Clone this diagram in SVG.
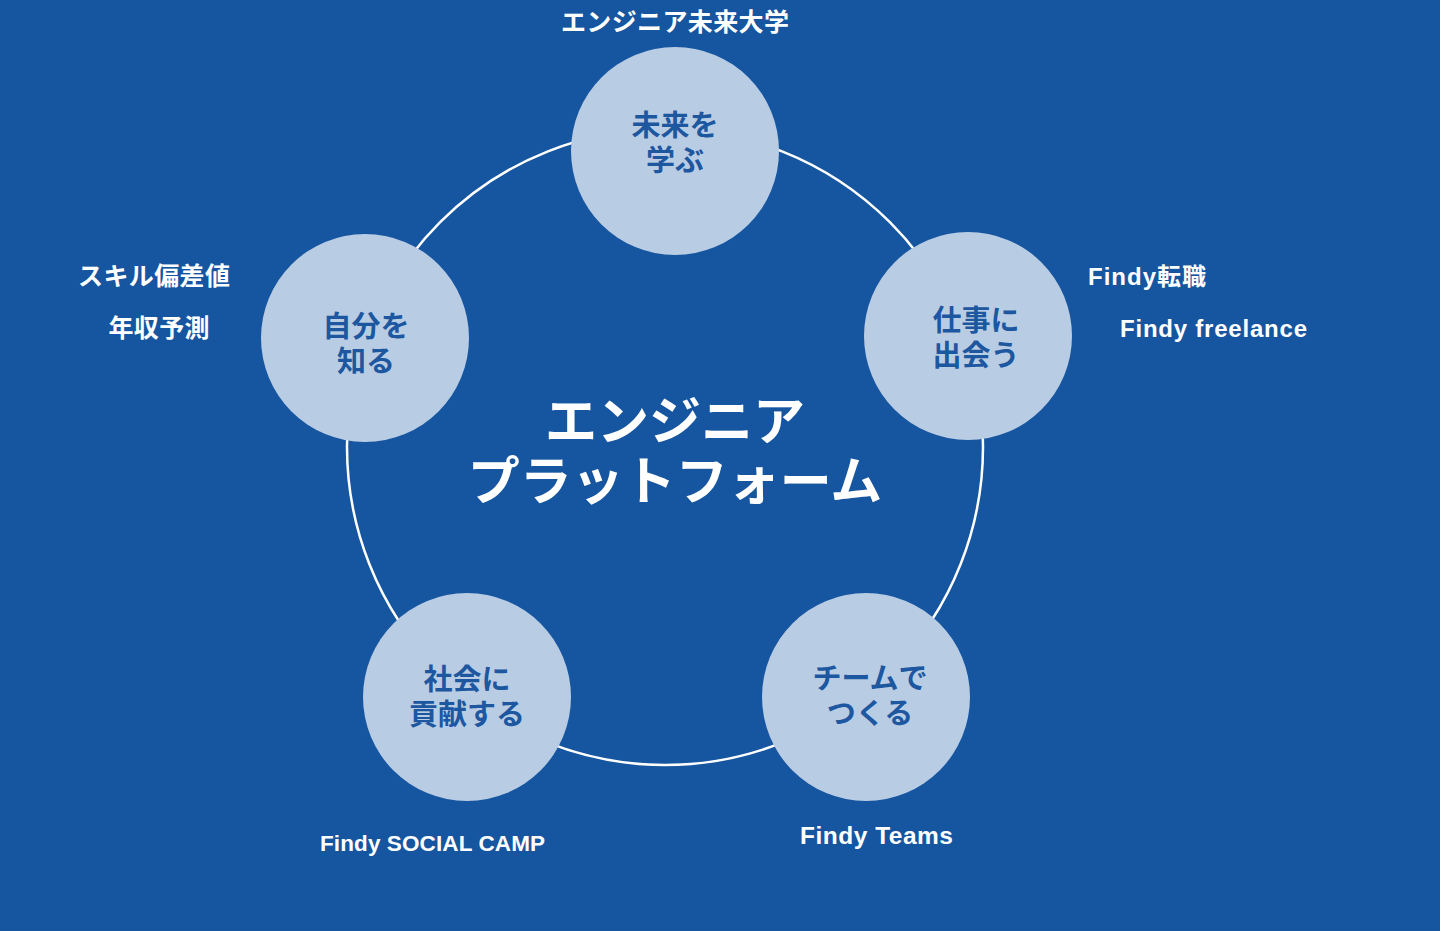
<svg xmlns="http://www.w3.org/2000/svg" width="1440" height="931" viewBox="0 0 1440 931">
<style>
.bg{fill:#16559f}
.ring{fill:none;stroke:#ffffff;stroke-width:2.5}
.node{fill:#b8cce4}
.nt{font-family:"Noto Sans CJK JP","Noto Sans",sans-serif;font-weight:700;font-size:29px;fill:#1c57a0;text-anchor:middle}
.lbl{font-family:"Liberation Sans","Noto Sans CJK JP",sans-serif;font-weight:700;font-size:24px;fill:#ffffff}
.jl{font-family:"Noto Sans CJK JP","Noto Sans",sans-serif;font-weight:700;font-size:25px;fill:#ffffff;text-anchor:middle}
.title{font-family:"Noto Sans CJK JP","Noto Sans",sans-serif;font-weight:700;font-size:52px;fill:#ffffff;text-anchor:middle}
</style>
<rect class="bg" x="0" y="0" width="1440" height="931"/>
<g id="connectors">
<circle class="ring" cx="665" cy="447" r="318"/>
</g>
<g id="center">
<text class="title" x="675" y="440">エンジニア</text>
<text class="title" x="675" y="500">プラットフォーム</text>
</g>
<g id="node-top">
<circle class="node" cx="675" cy="151" r="104"/>
<text class="nt" x="675" y="136">未来を</text>
<text class="nt" x="675" y="171">学ぶ</text>
</g>
<g id="node-left">
<circle class="node" cx="365" cy="338" r="104"/>
<text class="nt" x="366" y="337">自分を</text>
<text class="nt" x="366" y="372">知る</text>
</g>
<g id="node-right">
<circle class="node" cx="968" cy="336" r="104"/>
<text class="nt" x="976" y="331">仕事に</text>
<text class="nt" x="976" y="366">出会う</text>
</g>
<g id="node-bottom-left">
<circle class="node" cx="467" cy="697" r="104"/>
<text class="nt" x="467" y="690">社会に</text>
<text class="nt" x="467" y="725">貢献する</text>
</g>
<g id="node-bottom-right">
<circle class="node" cx="866" cy="697" r="104"/>
<text class="nt" x="870" y="689">チームで</text>
<text class="nt" x="870" y="724">つくる</text>
</g>
<g id="labels">
<text class="jl" x="675" y="31" textLength="228">エンジニア未来大学</text>
<text class="jl" x="154" y="285" textLength="152">スキル偏差値</text>
<text class="jl" x="159" y="337" textLength="101">年収予測</text>
<text class="lbl" x="1088" y="285" textLength="118">Findy転職</text>
<text class="lbl" x="1120" y="337" textLength="187">Findy freelance</text>
<text class="lbl" x="320" y="851" style="font-size:22.5px" textLength="225">Findy SOCIAL CAMP</text>
<text class="lbl" x="800" y="844" style="font-size:24.5px" textLength="153">Findy Teams</text>
</g>
</svg>
